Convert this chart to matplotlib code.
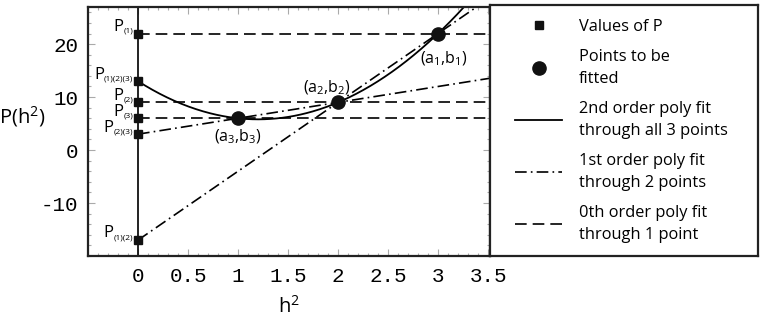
import numpy as np
import matplotlib.pyplot as plt
from matplotlib.ticker import MultipleLocator
from matplotlib.offsetbox import TextArea, HPacker, AnnotationBbox

plt.rcParams['font.family'] = ['Open Sans', 'DejaVu Sans']
plt.rcParams['mathtext.fontset'] = 'custom'
plt.rcParams['mathtext.rm'] = 'Open Sans'
plt.rcParams['mathtext.it'] = 'Open Sans'

# points to be fitted (h^2, P)
a_vals = [3, 2, 1]
b_vals = [22, 9, 6]
point_names = ['(a$_1$,b$_1$)', '(a$_2$,b$_2$)', '(a$_3$,b$_3$)']

# values of P at h^2 = 0
p_vals = [22, 13, 9, 6, 3, -17]
p_subs = ['(1)', '(1)(2)(3)', '(2)', '(3)', '(2)(3)', '(1)(2)']

x_ticks = [0, 0.5, 1, 1.5, 2, 2.5, 3, 3.5]
x_labels = ['0', '0.5', '1', '1.5', '2', '2.5', '3', '3.5']
y_ticks = [-10, 0, 10, 20]
y_labels = ['-10', '0', '10', '20']

legend_labels = ['Values of P', 'Points to be\nfitted',
                 '2nd order poly fit\nthrough all 3 points',
                 '1st order poly fit\nthrough 2 points',
                 '0th order poly fit\nthrough 1 point']

dashed = (0, (7, 3.6))
dashdot = (0, (7, 2.5, 1, 2.5))
lw = 1.2

fig = plt.figure(figsize=(7.62, 3.2), dpi=100)
ax = fig.add_axes([0.1155, 0.2, 0.5276, 0.778])
lax = fig.add_axes([0.643, 0.2, 0.352, 0.784])

xs = np.linspace(0, 3.6, 300)

# 0th order: through each single point
for a, b in zip(a_vals, b_vals):
    c0 = np.polyfit([a], [b], 0)
    hl, = ax.plot(xs, np.polyval(c0, xs), color='k', lw=lw, linestyle=dashed)

# 1st order: through neighbouring pairs
for i in range(len(a_vals) - 1):
    c1 = np.polyfit(a_vals[i:i + 2], b_vals[i:i + 2], 1)
    ll, = ax.plot(xs, np.polyval(c1, xs), color='k', lw=lw, linestyle=dashdot)

# 2nd order through all three
c2 = np.polyfit(a_vals, b_vals, 2)
ql, = ax.plot(xs, np.polyval(c2, xs), color='k', lw=1.3)

ax.axvline(0, color='#111111', lw=1.3)

sq, = ax.plot(np.zeros(len(p_vals)), p_vals, 's', color='#111111', ms=6,
              zorder=5, clip_on=False)
pts, = ax.plot(a_vals, b_vals, 'o', color='#111111', ms=9.5, zorder=6)

# P labels with small subscripts
for v, sub in zip(p_vals, p_subs):
    box = HPacker(children=[TextArea('P', textprops=dict(fontsize=12)),
                            TextArea(sub, textprops=dict(fontsize=6))],
                  align='bottom', pad=0, sep=0)
    ab = AnnotationBbox(box, (0, v), xybox=(-3.5, -1), xycoords='data',
                        boxcoords='offset points', box_alignment=(1, 0),
                        frameon=False, pad=0)
    ax.add_artist(ab)

offsets = [(4, -11.5, 'top'), (-8, 4, 'bottom'), (0, -7, 'top')]
for a, b, name, off in zip(a_vals, b_vals, point_names, offsets):
    ax.annotate(name, (a, b), xytext=off[:2], textcoords='offset points',
                ha='center', va=off[2], fontsize=11.5)

ax.set_xlim(-0.5, 3.52)
ax.set_ylim(-20, 27)
ax.set_xticks(x_ticks, x_labels, fontfamily='Liberation Mono', fontsize=15)
ax.set_yticks(y_ticks, y_labels, fontfamily='Liberation Mono', fontsize=15)
ax.xaxis.set_minor_locator(MultipleLocator(0.1))
ax.yaxis.set_minor_locator(MultipleLocator(2))
ax.tick_params(which='both', direction='in', top=True, right=True,
               color='#aaaaaa', width=0.8)
ax.tick_params(which='major', length=5)
ax.tick_params(which='minor', length=2.5)
ax.tick_params(axis='x', pad=8)
ax.tick_params(axis='y', pad=7)
for s in ax.spines.values():
    s.set_linewidth(1.6)
    s.set_color('#222222')

ax.set_ylabel('P(h$^2$)', rotation=0, fontsize=14.5, va='center')
ax.yaxis.set_label_coords(-0.164, 0.562)
ax.set_xlabel('h$^2$', fontsize=14.5)
ax.xaxis.set_label_coords(0.5, -0.16)

lax.set_xticks([])
lax.set_yticks([])
for s in lax.spines.values():
    s.set_linewidth(1.6)
    s.set_color('#222222')

leg = lax.legend([sq, pts, ql, ll, hl], legend_labels, loc='upper left',
                 bbox_to_anchor=(0.093, 0.945), frameon=False, fontsize=11.8,
                 handlelength=2.9, handletextpad=1.0, labelspacing=0.85,
                 borderpad=0, borderaxespad=0)
for t in leg.get_texts():
    t.set_linespacing(1.5)

fig.savefig('out.png', dpi=100)
